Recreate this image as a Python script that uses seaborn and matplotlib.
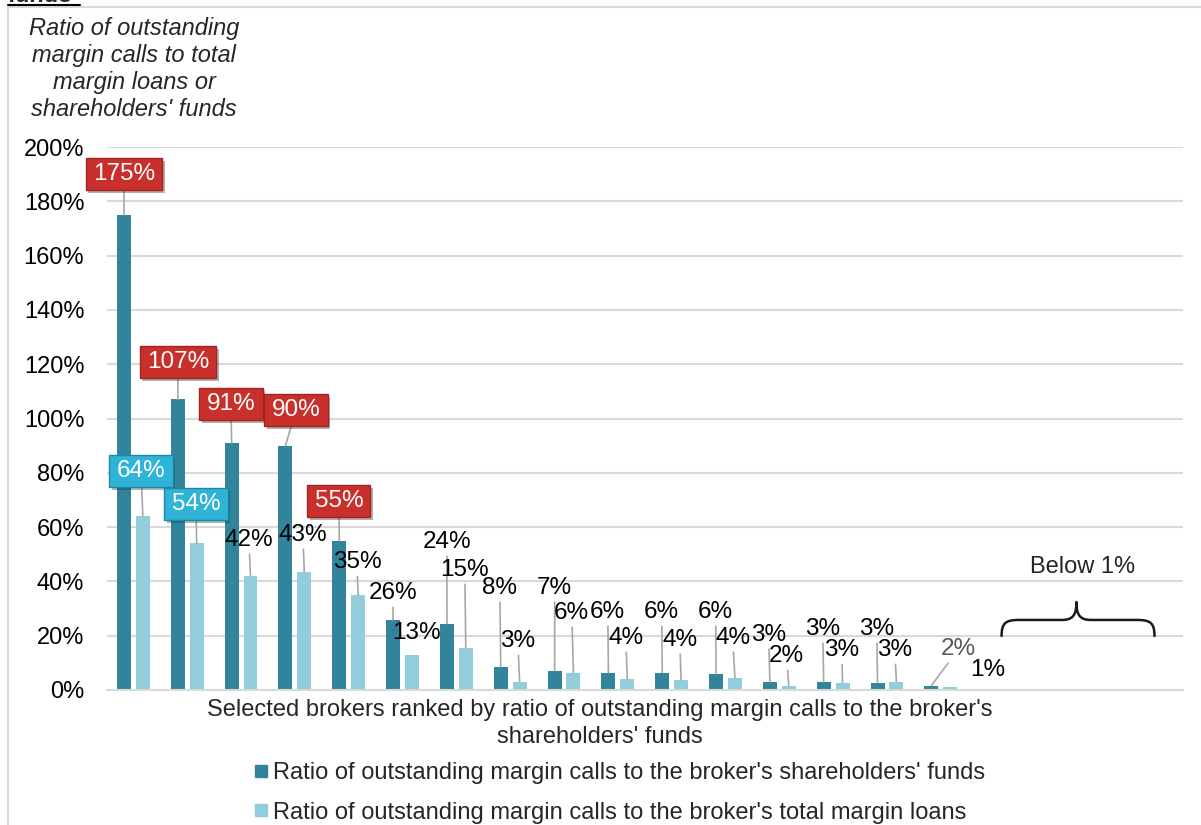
import matplotlib
matplotlib.use("Agg")
import pandas as pd
import seaborn as sns
import matplotlib.pyplot as plt
import matplotlib.patheffects as pe
from matplotlib.lines import Line2D
from matplotlib.path import Path
from matplotlib.patches import PathPatch

# data (% values)
brokers = [f"B{i}" for i in range(1, 21)]
shf_ratio = [175, 107, 91, 90, 55, 25.8, 24.4, 8.4, 7.1, 6.4, 6.4, 5.9,
             3.0, 2.9, 2.7, 1.6, 0.4, 0.2, 0.2, 0.0]
loan_ratio = [64.2, 54, 42, 43.4, 34.9, 12.8, 15.4, 3.1, 6.3, 4.1, 3.6, 4.4,
              1.6, 2.7, 3.1, 1.1, 0.4, 0.15, 0.1, 0.0]
series = ["Ratio of outstanding margin calls to the broker's shareholders' funds",
          "Ratio of outstanding margin calls to the broker's total margin loans"]
n_labelled = 16

df = pd.DataFrame({
    "broker": brokers * 2,
    "series": [series[0]] * len(brokers) + [series[1]] * len(brokers),
    "ratio": shf_ratio + loan_ratio,
})

DARK = "#31849B"
LIGHT = "#92CDDC"
RED = "#C9302C"
CYAN = "#2FB3D6"
GRID = "#D9D9D9"
FS = 17.5

sns.set_theme(style="white")
plt.rcParams['font.family'] = ['Liberation Sans', 'DejaVu Sans']

fig = plt.figure(figsize=(12.01, 8.25), dpi=100)
ax = fig.add_axes([106.5 / 1201, 1 - 690 / 825, (1183 - 106.5) / 1201, 543 / 825])

sns.barplot(data=df, x="broker", y="ratio", hue="series", palette=[DARK, LIGHT],
            saturation=1, width=0.7, gap=0.26, errorbar=None, linewidth=0,
            legend=False, ax=ax)

ax.set_xlim(-0.5, 19.5)
ax.set_ylim(0, 200)
ax.set_yticks(range(0, 201, 20))
ax.set_yticklabels([f"{t}%" for t in range(0, 201, 20)], fontsize=17)
ax.set_xticks([])
ax.set_xlabel("")
ax.set_ylabel("")
ax.tick_params(axis="y", length=0, pad=16, colors="black")
ax.yaxis.grid(True, color=GRID, lw=1.5)
ax.set_axisbelow(True)
for s in ["top", "right", "left"]:
    ax.spines[s].set_visible(False)
ax.spines["bottom"].set_color(GRID)
ax.spines["bottom"].set_linewidth(1.5)

# label positions (category units, %)
label_xy_dark = [(-0.175, 190.1), (0.828, 120.8), (1.812, 105.3), (3.019, 103.1),
                 (3.817, 69.6), (4.820, 35.7), (5.823, 54.5), (6.807, 37.6),
                 (7.828, 37.6), (8.813, 28.7), (9.816, 28.7), (10.818, 28.7),
                 (11.802, 20.3), (12.806, 22.5), (13.809, 22.5), (15.331, 15.1)]
label_xy_light = [(0.141, 80.7), (1.162, 68.5), (2.146, 55.2), (3.149, 57.1),
                  (4.152, 47.1), (5.266, 21.0), (6.157, 44.2), (7.141, 18.0),
                  (8.144, 28.4), (9.147, 19.2), (10.150, 18.4), (11.134, 19.2),
                  (12.137, 12.5), (13.159, 14.7), (14.143, 14.7), (15.88, 7.4)]
red_boxes = {0, 1, 2, 3, 4}
cyan_boxes = {0, 1}
no_leader_light = {5, 15}

leader = dict(arrowstyle="-", color="#A6A6A6", lw=1.2, shrinkA=0, shrinkB=0)
shadow = [pe.SimplePatchShadow(offset=(2, -2), alpha=0.35), pe.Normal()]


def callout_box(x0, y0, width, height, mutation_size):
    # wider than tall padding, like the office callout shapes
    px, py = 0.3 * mutation_size, 0.2 * mutation_size
    return Path([(x0 - px, y0 - py), (x0 + width + px, y0 - py),
                 (x0 + width + px, y0 + height + py), (x0 - px, y0 + height + py),
                 (x0 - px, y0 - py)], closed=True)


def put_label(rect, value, xy, box=None, color="black", line=True):
    top = (rect.get_x() + rect.get_width() / 2, rect.get_height())
    kw = {}
    if box is not None:
        kw["bbox"] = dict(boxstyle=callout_box, fc=box[0], ec=box[1], lw=1)
        color = "white"
    a = ax.annotate(f"{round(value)}%", xy=top, xytext=xy, ha="center", va="center",
                    fontsize=FS, color=color, arrowprops=leader if line else None,
                    zorder=5, **kw)
    if box is not None:
        a.get_bbox_patch().set_path_effects(shadow)


dark_bars, light_bars = ax.containers[0], ax.containers[1]
for i in range(n_labelled):
    put_label(dark_bars[i], shf_ratio[i], label_xy_dark[i],
              box=(RED, "#9E2622") if i in red_boxes else None,
              color="#595959" if i == 15 else "black")
    put_label(light_bars[i], loan_ratio[i], label_xy_light[i],
              box=(CYAN, "#1E87A3") if i in cyan_boxes else None,
              line=i not in no_leader_light)

# brace over the brokers below 1%
verts = [(16.13, 19.9), (16.13, 24.6), (16.2, 25.8), (16.45, 25.8),
         (17.25, 25.8),
         (17.45, 25.8), (17.52, 27.5), (17.52, 32.4),
         (17.52, 27.5), (17.59, 25.8), (17.79, 25.8),
         (18.65, 25.8),
         (18.9, 25.8), (18.97, 24.6), (18.97, 19.9)]
codes = [Path.MOVETO, Path.CURVE4, Path.CURVE4, Path.CURVE4,
         Path.LINETO,
         Path.CURVE4, Path.CURVE4, Path.CURVE4,
         Path.CURVE4, Path.CURVE4, Path.CURVE4,
         Path.LINETO,
         Path.CURVE4, Path.CURVE4, Path.CURVE4]
ax.add_patch(PathPatch(Path(verts, codes), fill=False, ec="#1a1a1a", lw=1.8,
                       capstyle="round", joinstyle="round"))
ax.text(17.63, 45.3, "Below 1%", ha="center", va="center", fontsize=17)

# axis titles
fig.text(600 / 1201, 1 - 723.5 / 825,
         "Selected brokers ranked by ratio of outstanding margin calls to the broker's\n"
         "shareholders' funds", ha="center", va="center", fontsize=17, linespacing=1.25)
fig.text(134 / 1201, 1 - 69 / 825,
         "Ratio of outstanding\nmargin calls to total\nmargin loans or\nshareholders' funds",
         ha="center", va="center", fontsize=17, style="italic", linespacing=1.23)

handles = [Line2D([], [], marker="s", ls="none", color=c, markersize=9) for c in (DARK, LIGHT)]
fig.legend(handles, series, loc="center", bbox_to_anchor=(620 / 1201, 1 - 793 / 825),
           frameon=False, fontsize=17, handlelength=0.5, handletextpad=0.25,
           labelspacing=0.72, borderpad=0)

# frame of the original slide and cut-off heading
fig.add_artist(Line2D([8 / 1201, 8 / 1201], [0, 1 - 7 / 825], color=GRID, lw=1.5,
                      transform=fig.transFigure))
fig.add_artist(Line2D([8 / 1201, 1], [1 - 7 / 825, 1 - 7 / 825], color=GRID, lw=1.5,
                      transform=fig.transFigure))
fig.text(8 / 1201, 1 - 2 / 825, "funds", fontsize=17, fontweight="bold", style="italic",
         ha="left", va="baseline")
fig.add_artist(Line2D([8 / 1201, 80 / 1201], [1 - 4.5 / 825, 1 - 4.5 / 825], color="black",
                      lw=1.5, transform=fig.transFigure))

fig.savefig("out.png", dpi=100)
